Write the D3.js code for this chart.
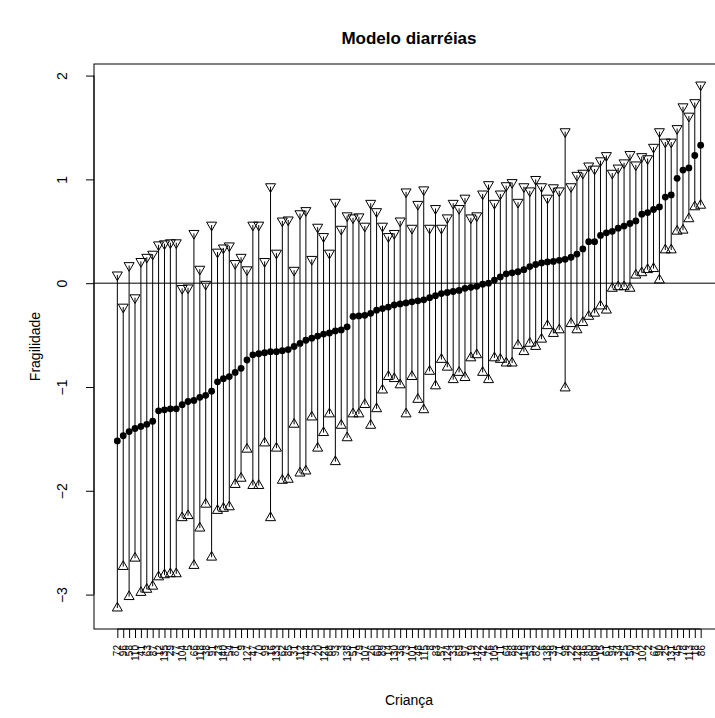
<!DOCTYPE html>
<html>
<head>
<meta charset="utf-8">
<script src="https://cdn.jsdelivr.net/npm/d3@7"></script>
<style>
  body { margin: 0; background: #ffffff; }
  text { font-family: Arial, 'Liberation Sans', sans-serif; fill: #000; }
</style>
</head>
<body>
<script>
// ids of the children (x axis labels, unreadable in the picture)
const criancas = [
  '72', '96', '58', '110', '41', '63', '87', '12', '135', '29',
  '77', '104', '5', '66', '118', '38', '91', '23', '140', '54',
  '81', '9', '127', '47', '70', '99', '16', '133', '62', '85',
  '31', '112', '44', '75', '20', '121', '68', '93', '3', '138',
  '51', '79', '107', '26', '60', '89', '14', '130', '36', '73',
  '101', '48', '115', '8', '83', '57', '124', '33', '69', '97',
  '19', '142', '42', '76', '105', '11', '64', '88', '28', '119',
  '53', '82', '6', '136', '39', '71', '98', '22', '128', '46',
  '80', '109', '15', '61', '94', '34', '125', '50', '74', '102',
  '2', '67', '90', '25', '131', '45', '78', '113', '18', '86'
];

// estimated frailty (filled dots)
const fragilidade = [
  -1.52, -1.47, -1.43, -1.40, -1.38, -1.36, -1.33, -1.23, -1.22, -1.21,
  -1.21, -1.17, -1.14, -1.13, -1.10, -1.08, -1.04, -0.95, -0.92, -0.90,
  -0.86, -0.82, -0.74, -0.69, -0.68, -0.67, -0.66, -0.66, -0.65, -0.64,
  -0.61, -0.58, -0.55, -0.53, -0.51, -0.49, -0.48, -0.46, -0.45, -0.42,
  -0.32, -0.315, -0.31, -0.29, -0.26, -0.245, -0.23, -0.21, -0.20, -0.19,
  -0.18, -0.17, -0.16, -0.14, -0.12, -0.10, -0.09, -0.08, -0.07, -0.05,
  -0.04, -0.03, -0.01, 0.00, 0.03, 0.06, 0.09, 0.10, 0.11, 0.13,
  0.16, 0.18, 0.195, 0.205, 0.21, 0.22, 0.23, 0.25, 0.28, 0.33,
  0.40, 0.40, 0.46, 0.485, 0.50, 0.53, 0.55, 0.575, 0.60, 0.665,
  0.68, 0.71, 0.735, 0.83, 0.85, 1.01, 1.09, 1.11, 1.23, 1.33
];

// lower limit (up triangles)
const limInf = [
  -3.13, -2.73, -3.02, -2.65, -2.98, -2.95, -2.92, -2.83, -2.81, -2.80,
  -2.80, -2.26, -2.24, -2.72, -2.36, -2.13, -2.64, -2.19, -2.17, -2.155,
  -1.94, -1.88, -1.60, -1.95, -1.95, -1.54, -2.26, -1.59, -1.90, -1.89,
  -1.36, -1.83, -1.81, -1.29, -1.59, -1.44, -1.26, -1.72, -1.37, -1.49,
  -1.26, -1.26, -1.17, -1.37, -1.21, -1.03, -0.90, -0.92, -0.98, -1.26,
  -0.90, -1.12, -1.22, -0.85, -0.99, -0.735, -0.81, -0.93, -0.86, -0.91,
  -0.72, -0.69, -0.86, -0.93, -0.72, -0.735, -0.77, -0.77, -0.60, -0.66,
  -0.58, -0.61, -0.54, -0.41, -0.485, -0.45, -1.01, -0.39, -0.45, -0.38,
  -0.32, -0.29, -0.22, -0.26, -0.05, -0.035, -0.035, -0.05, 0.077, 0.10,
  0.13, 0.14, 0.03, 0.32, 0.32, 0.50, 0.51, 0.62, 0.735, 0.75
];

// upper limit (down triangles)
const limSup = [
  0.08, -0.23, 0.17, -0.14, 0.21, 0.25, 0.28, 0.37, 0.38, 0.39,
  0.39, -0.05, -0.045, 0.48, 0.135, -0.01, 0.56, 0.30, 0.34, 0.36,
  0.19, 0.25, 0.13, 0.56, 0.56, 0.21, 0.93, 0.29, 0.60, 0.61,
  0.125, 0.67, 0.70, 0.23, 0.54, 0.45, 0.29, 0.78, 0.52, 0.65,
  0.63, 0.64, 0.55, 0.77, 0.69, 0.55, 0.45, 0.48, 0.60, 0.88,
  0.53, 0.76, 0.90, 0.53, 0.72, 0.53, 0.63, 0.77, 0.72, 0.82,
  0.63, 0.65, 0.86, 0.95, 0.77, 0.86, 0.94, 0.97, 0.78, 0.93,
  0.89, 1.00, 0.93, 0.82, 0.92, 0.89, 1.46, 0.93, 1.04, 1.06,
  1.13, 1.10, 1.18, 1.23, 1.06, 1.11, 1.16, 1.24, 1.14, 1.22,
  1.20, 1.31, 1.46, 1.36, 1.36, 1.49, 1.70, 1.61, 1.74, 1.91
];

const yTicks = [-3, -2, -1, 0, 1, 2];

// plot region (right side runs past the picture like the original)
const margin = { top: 64, left: 94 },
  width = 630,
  height = 565;

const data = criancas.map((c, i) => ({
  id: c,
  pos: i + 1,
  est: fragilidade[i],
  li: limInf[i],
  ls: limSup[i]
}));

// R style 4% padding
const n = data.length;
const xPad = 0.04 * (n - 1);
const x = d3.scaleLinear()
  .domain([1 - xPad, n + xPad])
  .range([margin.left, margin.left + width]);

const yMin = d3.min(limInf), yMax = d3.max(limSup);
const yPad = 0.04 * (yMax - yMin);
const y = d3.scaleLinear()
  .domain([yMin - yPad, yMax + yPad])
  .range([margin.top + height, margin.top]);

const svg = d3.select('body')
  .append('svg')
  .attr('width', 715)
  .attr('height', 718);

// title
svg.append('text')
  .attr('x', margin.left + width / 2)
  .attr('y', 44)
  .attr('text-anchor', 'middle')
  .style('font-size', '17px')
  .style('font-weight', 'bold')
  .text('Modelo diarréias');

// vertical segments
svg.append('g')
  .selectAll('line')
  .data(data)
  .join('line')
  .attr('x1', d => x(d.pos))
  .attr('x2', d => x(d.pos))
  .attr('y1', d => y(d.li))
  .attr('y2', d => y(d.ls))
  .attr('stroke', '#000')
  .attr('stroke-width', 1);

// zero line
svg.append('line')
  .attr('x1', margin.left)
  .attr('x2', margin.left + width)
  .attr('y1', y(0))
  .attr('y2', y(0))
  .attr('stroke', '#000')
  .attr('stroke-width', 1);

// triangles like pch 2 / pch 6
const r = 5.8, xc = 5, yc = 2.9;
const triUp = `M0,${-r}L${xc},${yc}L${-xc},${yc}Z`;
const triDown = `M0,${r}L${xc},${-yc}L${-xc},${-yc}Z`;

svg.append('g')
  .selectAll('path')
  .data(data)
  .join('path')
  .attr('d', triUp)
  .attr('transform', d => `translate(${x(d.pos)},${y(d.li)})`)
  .attr('fill', 'none')
  .attr('stroke', '#000')
  .attr('stroke-width', 1);

svg.append('g')
  .selectAll('path')
  .data(data)
  .join('path')
  .attr('d', triDown)
  .attr('transform', d => `translate(${x(d.pos)},${y(d.ls)})`)
  .attr('fill', 'none')
  .attr('stroke', '#000')
  .attr('stroke-width', 1);

// point estimates
svg.append('g')
  .selectAll('circle')
  .data(data)
  .join('circle')
  .attr('cx', d => x(d.pos))
  .attr('cy', d => y(d.est))
  .attr('r', 3.4)
  .attr('fill', '#000');

// box
svg.append('rect')
  .attr('x', margin.left)
  .attr('y', margin.top)
  .attr('width', width)
  .attr('height', height)
  .attr('fill', 'none')
  .attr('stroke', '#000')
  .attr('stroke-width', 1);

// y axis
const yAxis = svg.append('g')
  .attr('transform', `translate(${margin.left},0)`)
  .call(d3.axisLeft(y).tickValues(yTicks).tickSize(8).tickSizeOuter(0).tickFormat(d3.format('d')));
yAxis.select('.domain').attr('d', `M0,${y(-3)}V${y(2)}`).attr('stroke', '#000');
yAxis.selectAll('.tick line').attr('stroke', '#000');
yAxis.selectAll('.tick text')
  .attr('x', null)
  .attr('dy', null)
  .attr('fill', '#000')
  .attr('text-anchor', 'middle')
  .attr('transform', 'translate(-32,0) rotate(-90) translate(0,5)')
  .style('font-size', '14px')
  .style('font-family', "Arial, 'Liberation Sans', sans-serif");

// x axis with rotated ids
const xAxis = svg.append('g')
  .attr('transform', `translate(0,${margin.top + height})`)
  .call(d3.axisBottom(x)
    .tickValues(data.map(d => d.pos))
    .tickSize(9)
    .tickFormat(d => criancas[d - 1]));
xAxis.select('.domain').attr('d', `M${x(1)},0H${x(n)}`).attr('stroke', '#000');
xAxis.selectAll('.tick line').attr('stroke', '#000');
xAxis.selectAll('.tick text')
  .attr('y', null)
  .attr('dy', null)
  .attr('fill', '#000')
  .attr('text-anchor', 'end')
  .attr('transform', 'translate(3.5,16) rotate(-90)')
  .style('font-size', '10px')
  .style('font-family', "Arial, 'Liberation Sans', sans-serif");

// axis titles
svg.append('text')
  .attr('x', margin.left + width / 2)
  .attr('y', 705)
  .attr('text-anchor', 'middle')
  .style('font-size', '14px')
  .text('Criança');

svg.append('text')
  .attr('transform', `translate(40,${margin.top + height / 2}) rotate(-90)`)
  .attr('text-anchor', 'middle')
  .style('font-size', '14px')
  .text('Fragilidade');
</script>
</body>
</html>
